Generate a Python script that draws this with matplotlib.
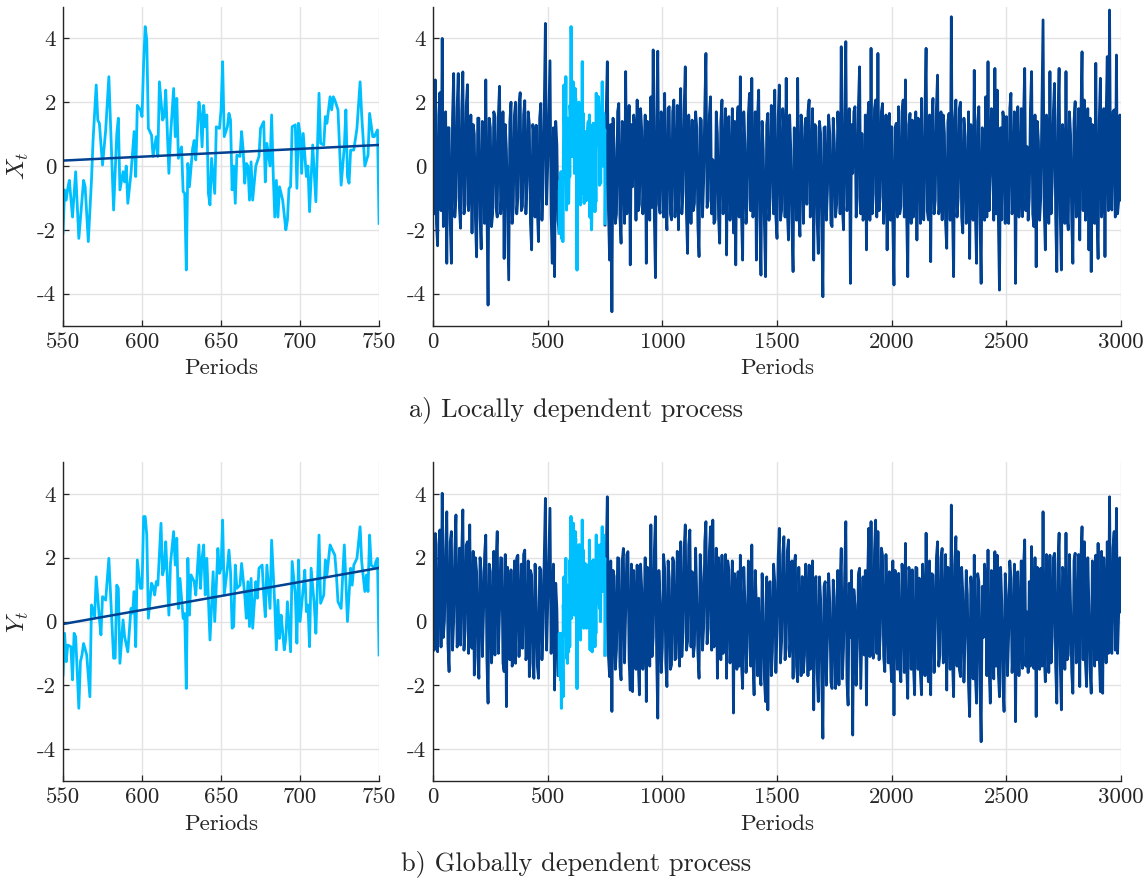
import numpy as np
import matplotlib
matplotlib.use("Agg")
import matplotlib.pyplot as plt

plt.rcParams["font.family"] = "serif"
plt.rcParams["font.serif"] = ["cmr10", "DejaVu Serif"]
plt.rcParams["mathtext.fontset"] = "cm"
plt.rcParams["axes.unicode_minus"] = False

nan = np.nan

# ── window 550-750, locally dependent X_t ──
x_win_t = [550, 551, 552, 553, 554, 556, 558, 560, 562, 563, 564, 566, 568, 569, 571, 572, 573, 575,
           577, 579, 581, 582, 584, 585, 586, 588, 589, 590, 591, 593, 595, 596, 597, 599, 600, 601,
           602, 603, 604, 606, 607, 609, 610, 611, 613, 614, 615, 617, 618, 620, 621, 622, 623, 625,
           626, 627, 628, 629, 630, 632, 633, 634, 636, 637, 638, 639, 640, 641, 642, 643, 644, 646,
           647, 649, 650, 651, 652, 654, 655, 656, 657, 658, 659, 660, 662, 663, 664, 665, 666, 667,
           668, 669, 670, 672, 674, 675, 677, 678, 679, 681, 682, 683, 684, 685, 686, 687, 689, 691,
           692, 693, 694, 695, 697, 698, 699, 700, 701, 702, 704, 705, 706, 708, 709, 710, 712, 713,
           715, 716, 717, 719, 720, 721, 722, 724, 726, 728, 729, 730, 731, 732, 734, 736, 738, 739,
           741, 743, 744, 746, 747, 749, 750]
x_win = [-2.1, -0.75, -1.07, -0.7, -0.45, -1.6, -0.18, -2.27, -1.07, -0.45, -0.65, -2.37, -0.45, 0.8,
         2.54, 1.44, 1.34, 0.03, 1.13, 2.8, 0.0, -1.38, 1.0, 1.5, -0.75, -0.18, -0.5, 0.0, -1.17,
         -0.23, 1.08, -0.33, 1.9, 1.76, 1.55, 3.2, 4.37, 3.95, 1.18, 0.97, 0.3, 0.92, 0.3, 2.64, 1.44,
         1.55, 2.38, -0.23, 0.92, 2.43, 0.92, 2.12, 0.24, 0.6, -0.8, -0.86, -3.26, 0.08, -0.65, 0.55,
         0.8, 0.19, 2.0, 1.65, 0.6, 1.9, 1.23, 1.6, -0.86, -1.22, 0.24, -0.86, 1.23, 1.18, 1.76, 3.27,
         0.92, 1.23, 1.65, 1.44, -0.75, 0.0, -1.17, 0.34, 0.3, 1.08, 0.5, -0.54, 0.08, 0.0, -1.07,
         0.13, -1.07, 0.0, 0.3, 1.18, 1.39, -0.5, 0.71, 0.0, 1.6, -0.23, -1.6, -0.45, -1.6, -0.65,
         -1.07, -2.0, -1.7, -0.7, -0.65, 1.23, 1.29, -0.7, 1.34, 1.02, -0.23, 1.02, -0.33, 0.0, -1.43,
         0.66, -0.23, -1.12, 2.28, 0.71, 0.66, 1.55, 1.34, 2.17, 1.76, 2.17, 2.07, 1.76, -0.6, 0.6,
         1.76, -0.33, -0.54, 0.5, 0.5, 1.18, 2.64, 1.6, 0.0, 0.34, 1.65, 0.92, 0.92, 1.13, -1.8]
x_trend = [0.17, 0.66]

# ── window 550-750, globally dependent Y_t ──
y_win_t = [550, 551, 552, 553, 555, 556, 557, 558, 560, 561, 562, 563, 565, 567, 568, 570, 571, 573,
           574, 575, 577, 579, 582, 583, 584, 585, 586, 588, 589, 591, 593, 594, 595, 596, 597, 599,
           600, 601, 602, 603, 604, 606, 607, 608, 609, 610, 612, 613, 614, 615, 617, 618, 620, 621,
           622, 623, 624, 626, 627, 628, 629, 630, 631, 633, 634, 636, 637, 638, 639, 640, 641, 643,
           644, 645, 646, 648, 649, 650, 651, 652, 654, 655, 656, 657, 658, 659, 660, 662, 663, 665,
           666, 667, 668, 669, 670, 672, 673, 674, 676, 677, 678, 679, 681, 682, 684, 685, 686, 687,
           688, 689, 690, 691, 692, 694, 695, 697, 698, 699, 700, 702, 703, 704, 705, 706, 707, 709,
           710, 712, 713, 715, 716, 717, 719, 720, 722, 723, 724, 726, 727, 728, 729, 730, 732, 733,
           734, 736, 738, 739, 741, 742, 743, 744, 745, 747, 748, 749, 750]
y_win = [-1.68, -0.37, -1.26, -0.74, -0.79, -1.83, -0.37, -0.48, -2.72, -1.26, -1.05, -0.69, -1.05,
         -2.36, 0.52, 0.15, 1.4, 0.1, -0.42, 0.78, 0.67, 1.98, -1.15, -1.15, 1.14, 1.04, -1.31, 0.05,
         -0.48, -0.95, 0.41, 0.26, 0.94, -0.79, 1.93, 1.04, 1.04, 3.29, 3.29, 2.71, 0.1, 1.2, 1.09,
         0.83, 1.25, 1.14, 3.08, 1.46, 1.67, 2.5, 0.2, 1.82, 2.82, 1.77, 2.61, 0.41, 1.35, 0.1, 0.25,
         -2.1, 1.98, 0.2, 1.46, 1.25, 0.83, 2.4, 1.04, 1.98, 2.4, 0.83, 1.98, -0.58, 0.52, 1.56, 0.0,
         2.29, 1.51, 1.67, 3.18, 0.83, 1.67, 2.24, 1.56, -0.21, -0.16, 1.77, 1.04, 1.14, 1.82, 0.83,
         0.1, 1.25, -0.16, 1.35, -0.21, 1.25, 0.73, 1.67, 1.77, 0.83, 0.15, 1.77, 0.41, 2.55, 0.52,
         -0.89, 0.67, -0.53, 0.2, -0.32, -0.89, -0.53, 0.62, -0.95, 1.88, 0.83, -0.68, 1.93, 0.0,
         1.04, 1.61, 0.31, 0.52, -0.79, 1.67, 0.52, -0.37, 2.71, 0.57, 0.83, 1.93, 1.46, 2.4, 2.29,
         2.08, 1.46, 0.62, 0.41, 1.46, 2.4, 1.25, 0.0, 1.67, 1.14, 1.77, 1.98, 2.97, 1.88, 0.94, 1.46,
         0.94, 2.71, 1.77, 1.67, 1.88, 1.98, -1.05]
y_trend = [-0.08, 1.68]
trend_t = [550, 750]

# ── full sample 0-3000 on a 5-period grid: values at multiples of 10 and the
#    in-between values at 5, 15, 25, ... (window 550-750 drawn separately) ──
x_full = [
    0.3, 2.7, -2.5, 2.3, 4.0, -0.8, -3.05, 1.2, -3.05, 2.9,
    -1.0, 2.9, -1.95, 2.95, -1.2, 2.55, -0.5, -2.1, 1.0, -2.85,
    1.5, -2.6, 0.6, 2.7, -4.36, 1.2, -1.5, 1.55, -1.6, 2.5,
    -0.8, -2.9, 0.5, -3.57, 2.0, -1.3, 2.0, -1.0, 2.3, -1.27,
    2.05, -0.5, 1.3, -2.63, 1.0, 1.28, -2.37, 1.96, -0.5, 4.47,
    0.0, 3.3, -3.05, -3.47, 0.66, -2.1, nan, nan, nan, nan,
    nan, nan, nan, nan, nan, nan, nan, nan, nan, nan,
    nan, nan, nan, nan, nan, -1.85, 3.27, -2.95, -4.57, 0.5,
    -1.5, 1.96, -2.42, 0.8, 2.96, -0.6, -3.1, -0.65, 1.2, 2.07,
    -1.2, 1.13, -0.18, -3.05, 1.0, 2.17, 3.64, -3.5, 3.6, -1.48,
    1.0, 2.28, -2.0, 1.86, -1.69, 2.07, -0.5, -2.0, 2.43, -0.8,
    3.11, -2.74, 0.5, 1.44, -1.17, 1.2, -2.84, 1.44, -0.5, 3.53,
    -1.07, 2.17, 0.2, -1.69, 1.0, -2.42, 2.07, -0.13, -2.79, 1.55,
    -0.5, -2.1, -3.1, 1.86, 2.8, -2.95, 0.71, -1.0, 2.28, 2.75,
    -1.0, -2.95, 2.38, -3.42, 0.5, -3.47, 1.65, -1.0, 1.02, 2.38,
    -2.27, 2.54, -1.38, 1.0, 2.75, -2.32, 0.5, -3.31, 1.02, 2.75,
    -2.2, 1.2, 0.0, -1.2, 2.07, -0.5, -2.95, 1.23, -2.74, 1.02,
    -4.1, 1.23, -0.75, 1.0, -1.9, 0.71, -1.2, 0.71, 3.74, -2.0,
    3.9, -1.0, -3.68, -0.23, 1.86, -1.0, 3.11, 1.02, -1.5, -2.63,
    2.0, 3.69, -0.86, 2.07, 3.53, -0.96, 1.96, -0.5, -2.63, 1.65,
    1.23, -3.73, 1.34, 1.86, -1.27, 2.07, 2.7, -3.47, 1.65, 1.44,
    -0.5, -2.32, 1.13, 2.12, -1.69, 3.69, -1.69, -3.0, 2.12, -1.07,
    2.85, -1.27, -1.69, 1.02, -2.58, 1.65, 4.68, -3.47, 2.07, -1.0,
    2.0, -2.1, 0.92, -1.27, -2.9, 0.19, 3.0, -3.05, 1.86, -3.68,
    0.5, 2.17, 3.27, -0.33, 1.0, 3.06, 2.38, -3.89, -1.69, 1.34,
    1.55, -1.8, 2.28, -1.0, -3.68, 1.86, -0.5, -1.59, 3.06, 0.61,
    -1.0, 2.96, -1.9, -3.16, 0.76, -1.0, 4.58, -2.63, 1.0, 2.96,
    -0.5, 2.59, -3.31, 3.06, -3.26, 0.61, 2.96, -2.0, 1.0, -3.05,
    2.02, -0.5, -2.32, 3.58, 2.07, -1.0, -2.63, -3.31, 1.0, 3.22,
    -2.9, 2.75, -1.0, -2.84, 3.43, 4.89, -1.38, 1.76, 3.48, -1.07,
    -1.07,
]
x_full_mid = [
    -1.5, -1.8, 1.6, -1.4, -1.9, 1.7, 1.2, -1.8, 1.5, -1.6,
    1.8, -1.3, 1.7, -1.5, 1.9, -1.4, 1.6, 1.3, -1.7, 1.5,
    -1.6, 1.4, -1.8, -1.2, 1.5, -1.9, 1.7, -1.3, 1.6, -1.5,
    1.7, 1.3, -1.6, 1.4, -1.8, 1.6, -1.5, 1.9, -1.4, 1.6,
    -1.5, 1.7, -1.8, 1.3, -1.6, -1.4, 1.5, -1.7, 1.8, -1.2,
    1.6, -1.5, 1.2, 1.4, -1.7, nan, nan, nan, nan, nan,
    nan, nan, nan, nan, nan, nan, nan, nan, nan, nan,
    nan, nan, nan, nan, nan, 1.6, -1.4, 1.3, 1.5, -1.8,
    1.7, -1.6, 1.4, -1.8, -1.5, 1.9, 1.3, 1.6, -1.7, -1.4,
    1.8, -1.5, 1.6, 1.4, -1.7, -1.3, -1.6, 1.5, -1.2, 1.7,
    -1.6, -1.4, 1.8, -1.5, 1.7, -1.6, 1.9, 1.3, -1.5, 1.8,
    -1.5, 1.6, -1.8, -1.4, 1.7, -1.9, 1.5, -1.6, 1.8, -1.3,
    1.6, -1.5, -1.8, 1.7, -1.6, 1.4, -1.5, 1.8, 1.3, -1.7,
    1.8, 1.4, 1.2, -1.6, -1.5, 1.7, -1.8, 1.6, -1.4, -1.6,
    1.7, 1.5, -1.6, 1.4, -1.8, 1.3, -1.7, 1.9, -1.5, -1.6,
    1.5, -1.7, 1.8, -1.6, -1.4, 1.6, -1.8, 1.2, -1.7, -1.5,
    1.6, -1.8, 1.5, 1.7, -1.6, 1.8, 1.3, -1.7, 1.4, -1.9,
    1.2, -1.7, 1.6, -1.8, 1.5, -1.6, 1.7, -1.5, -1.3, 1.6,
    -1.4, 1.8, 1.3, 1.7, -1.6, 1.9, -1.5, -1.7, 1.6, 1.4,
    -1.7, -1.5, 1.8, -1.6, -1.4, 1.7, -1.8, 1.6, 1.3, -1.7,
    -1.8, 1.2, -1.6, -1.5, 1.7, -1.6, -1.4, 1.3, -1.8, -1.6,
    1.7, 1.5, -1.8, -1.6, 1.7, -1.4, 1.6, 1.3, -1.5, 1.8,
    -1.5, 1.7, 1.6, -1.8, 1.4, -1.7, -1.3, 1.5, -1.6, 1.8,
    -1.6, 1.5, -1.8, 1.7, 1.3, -1.7, -1.5, 1.4, -1.6, 1.2,
    -1.7, -1.6, -1.4, 1.8, -1.7, -1.5, -1.6, 1.2, 1.7, -1.8,
    -1.6, 1.8, -1.5, 1.7, 1.3, -1.6, 1.8, 1.5, -1.4, -1.7,
    1.8, -1.5, 1.6, 1.4, -1.7, 1.8, -1.3, 1.6, -1.8, -1.5,
    1.7, -1.6, 1.4, -1.5, 1.3, -1.8, -1.6, 1.7, -1.7, 1.4,
    -1.6, 1.8, 1.5, -1.4, -1.7, 1.8, 1.5, 1.3, -1.8, -1.5,
    1.4, -1.6, 1.8, 1.5, -1.4, -1.2, 1.7, -1.6, -1.5, 1.6,
]
y_full = [
    1.46, 2.76, -0.95, 2.87, 4.02, 0.05, 3.44, -1.57, 2.82, 0.0,
    3.34, -0.53, -0.74, 3.5, -0.27, 2.5, 3.03, -0.84, -1.68, 1.56,
    -1.78, 1.56, 0.2, 2.71, -2.56, 1.56, -0.5, -1.05, 2.82, 0.3,
    1.98, -1.57, -2.67, 0.8, 1.62, -1.15, -1.31, 2.08, 0.2, -0.84,
    2.24, -1.0, -1.73, 1.46, -1.78, 0.6, -1.78, 1.62, -0.21, 3.86,
    0.5, 3.55, 0.1, -2.15, 0.41, -1.68, nan, nan, nan, nan,
    nan, nan, nan, nan, nan, nan, nan, nan, nan, nan,
    nan, nan, nan, nan, nan, -1.05, 3.91, -1.73, -2.82, 1.41,
    -0.89, 1.98, -1.83, 2.29, 0.3, 2.19, -2.15, -2.2, 0.5, 1.77,
    -2.3, 1.04, -0.16, -2.51, 1.15, 3.03, -0.5, 3.29, -3.03, 0.62,
    -0.8, 1.67, -2.04, 1.36, -1.36, 1.88, -1.15, 0.5, 2.5, -0.3,
    3.03, -0.63, 2.87, 1.56, -0.74, 0.8, -1.78, 1.36, -0.2, 3.13,
    -0.21, 2.97, 3.18, -0.42, -1.78, 1.04, 2.08, -0.5, -1.78, 1.62,
    -0.4, -2.87, 0.83, 1.56, 2.08, -2.1, 0.62, -0.8, 1.2, 2.4,
    -2.3, 0.5, 0.73, -1.99, 0.4, -2.51, -2.77, 1.25, -0.95, 1.25,
    -0.3, 2.92, -0.63, 2.66, -0.84, 2.56, -0.5, -1.78, 2.08, -1.89,
    0.3, 1.41, -1.05, 0.5, 1.77, -0.8, -2.77, 1.41, -2.51, 0.73,
    -3.66, 1.25, -0.47, 0.6, -2.1, 0.73, -0.9, -1.99, 2.29, -0.84,
    3.13, -2.62, -0.5, -3.56, 0.52, -0.8, 1.67, -0.3, -1.05, -2.62,
    2.92, 3.13, -1.15, 3.18, 2.82, -0.42, 2.08, -1.57, 0.5, 1.56,
    -1.89, -2.93, 0.73, 1.51, -1.89, 1.25, 2.45, -2.41, 1.46, 1.62,
    -2.3, 1.67, 1.36, -2.3, 0.5, 2.77, -1.89, -2.3, 1.46, -0.21,
    2.5, -1.05, 2.29, -0.5, -2.15, 1.46, 3.65, -2.36, 2.66, 2.19,
    -1.73, 0.88, -0.5, 0.83, -2.98, 0.83, 2.08, -2.56, 1.25, -3.77,
    -0.5, 1.04, 2.24, -2.56, 0.5, 2.19, 2.08, -2.36, 0.62, -2.82,
    0.83, -0.42, 1.36, -0.8, -3.14, 1.56, -0.3, -1.47, 2.56, 0.3,
    1.25, 2.35, -1.47, -2.98, 0.5, 1.67, 3.44, -1.89, 0.8, 2.08,
    -0.5, 2.14, -2.56, 2.77, -2.77, 1.56, 2.77, -1.05, 0.5, -2.25,
    2.14, -0.5, -2.04, 2.97, 2.5, -2.04, 0.5, -2.25, 1.0, 2.08,
    2.45, -2.2, -2.25, 0.5, 2.5, 3.91, -1.0, 2.82, 3.55, 0.31,
    0.3,
]
y_full_mid = [
    -0.9, -0.6, 2.4, -0.8, -0.5, 2.3, -0.7, 2.5, -0.9, 2.2,
    -0.8, 2.3, 2.1, -0.9, 2.4, -1.0, -0.7, 2.2, 2.0, -1.1,
    2.0, -1.1, 2.1, -1.2, 1.8, -1.3, 2.2, 1.9, -1.0, 2.0,
    -1.3, 2.1, 1.7, -1.2, -1.4, 1.9, 2.0, -1.1, 1.8, 2.1,
    -1.2, 1.9, 1.6, -1.3, 1.8, -1.4, 1.7, -1.2, 2.0, -0.9,
    2.1, -1.0, 1.8, 1.2, -1.7, nan, nan, nan, nan, nan,
    nan, nan, nan, nan, nan, nan, nan, nan, nan, nan,
    nan, nan, nan, nan, nan, 2.0, -1.1, 1.9, 1.6, -1.5,
    2.0, -1.4, 1.9, -1.3, 2.1, -1.2, 1.8, 1.6, -1.5, -1.3,
    1.8, -1.5, 2.0, 1.7, -1.4, -1.1, 2.2, -1.0, 1.6, -1.6,
    2.1, -1.3, 1.9, -1.5, 2.0, -1.2, 2.2, -1.4, -1.1, 2.3,
    -0.9, 2.4, -0.8, -1.1, 2.3, -1.0, 2.1, -0.9, 2.5, -0.7,
    2.2, -0.9, -0.8, 2.3, 2.0, -1.2, -1.0, 2.1, 1.9, -1.3,
    1.9, 1.5, -1.5, -1.4, -1.3, 1.7, -1.6, 1.9, -1.4, -1.2,
    1.6, -1.7, -1.6, 1.5, -1.8, 1.4, 1.2, -1.7, 1.8, -1.6,
    2.0, -1.3, 2.1, -1.2, 2.2, -1.1, 1.9, 1.8, -1.4, 1.7,
    -1.7, -1.6, 1.8, -1.7, -1.5, 1.9, 1.3, -1.6, 1.4, -1.8,
    1.1, -2.0, 1.5, -1.9, 1.3, -2.1, 1.6, 1.2, -1.8, 1.5,
    -1.9, 1.2, 1.6, 1.0, -2.0, 1.5, -2.1, 1.4, 1.6, 1.3,
    -1.1, -0.9, 2.2, -1.0, -1.2, 2.3, -1.1, 2.1, -1.3, -1.2,
    1.9, 1.6, -1.5, -1.4, 1.8, -1.6, -1.3, 1.7, -1.5, -1.4,
    1.7, -1.5, -1.6, 1.8, -1.7, -1.3, 1.9, 1.5, -1.6, 2.0,
    -1.4, 2.0, -1.3, 2.1, 1.7, -1.5, -1.2, 1.8, -1.4, -1.5,
    1.7, -1.9, 1.6, -2.0, 1.4, -1.8, -1.7, 1.5, -2.0, 1.1,
    1.8, -1.7, -1.5, 1.6, -1.8, -1.4, -1.6, 1.7, -1.9, 1.5,
    -1.7, 1.9, -1.6, 1.8, 1.5, -1.7, 1.9, 1.7, -1.4, -1.6,
    -1.4, -1.3, 2.0, 1.7, -1.5, -1.4, -1.1, 2.1, -1.6, -1.3,
    2.0, -1.4, 1.8, -1.3, 1.7, -1.5, -1.2, 2.1, -1.6, 1.9,
    -1.3, 2.1, 1.9, -1.2, -1.3, 2.0, -1.5, 1.9, -1.4, -1.2,
    -1.1, 2.2, 2.0, -1.3, -1.0, -0.8, 2.3, -0.9, -1.0, 2.0,
]

LIGHT = "#00bfff"
DARK = "#004191"
INK = "#262626"
FS = 16.5


def interleave(main, mid):
    out = np.empty(len(main) + len(mid))
    out[0::2] = main
    out[1::2] = mid
    return out


def style(ax, xlim, xticks):
    ax.set_xlim(*xlim)
    ax.set_ylim(-5, 5)
    ax.set_xticks(xticks)
    ax.set_yticks([-4, -2, 0, 2, 4])
    ax.grid(True, color="#e3e3e3", linewidth=1.0)
    ax.set_axisbelow(True)
    for s in ("top", "right"):
        ax.spines[s].set_visible(False)
    for s in ("left", "bottom"):
        ax.spines[s].set_color(INK)
        ax.spines[s].set_linewidth(1.0)
    ax.tick_params(direction="in", length=4, width=0.9, colors=INK,
                   labelsize=FS, pad=5)
    ax.set_xlabel("Periods", fontsize=FS, color=INK, labelpad=5)


full_t = np.arange(0, 3001, 5)

fig = plt.figure(figsize=(11.48, 8.8), dpi=100)
panels = [
    (0.6301, x_win_t, x_win, x_trend, interleave(x_full, x_full_mid), r"$X_t$"),
    (0.1125, y_win_t, y_win, y_trend, interleave(y_full, y_full_mid), r"$Y_t$"),
]
for bottom, win_t, win, trend, full, ylab in panels:
    ax_l = fig.add_axes([0.0549, bottom, 0.2753, 0.3625])
    ax_r = fig.add_axes([0.3772, bottom, 0.5993, 0.3625])

    ax_l.plot(win_t, win, color=LIGHT, linewidth=2.0, solid_joinstyle="round")
    ax_l.plot(trend_t, trend, color=DARK, linewidth=1.8)
    style(ax_l, (550, 750), range(550, 751, 50))
    ax_l.set_ylabel(ylab, fontsize=18, color=INK, labelpad=4)

    ax_r.plot(full_t, full, color=DARK, linewidth=2.0, solid_joinstyle="round")
    ax_r.plot(win_t, win, color=LIGHT, linewidth=2.2)
    style(ax_r, (0, 3000), range(0, 3001, 500))

fig.text(0.5017, 1 - 410 / 880, "a) Locally dependent process", ha="center", va="center",
         fontsize=19, color=INK)
fig.text(0.5017, 1 - 864 / 880, "b) Globally dependent process", ha="center", va="center",
         fontsize=19, color=INK)

fig.savefig("out.png", dpi=100)
